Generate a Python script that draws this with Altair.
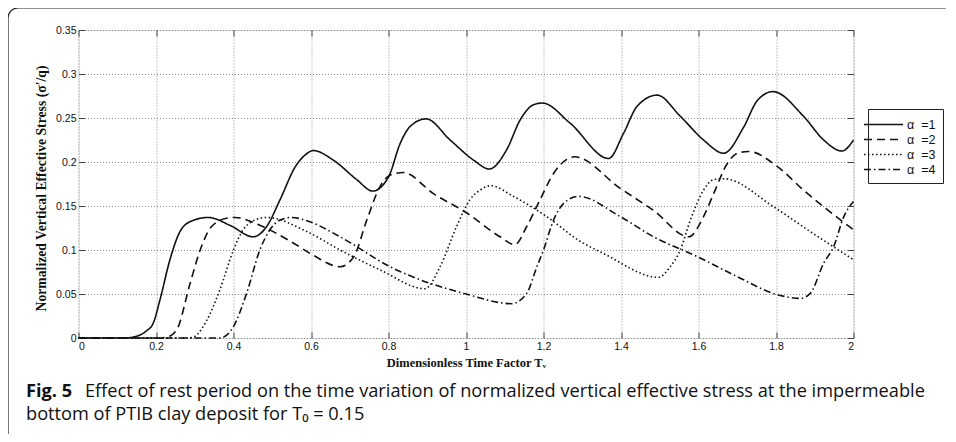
import altair as alt
import pandas as pd

# ---- data ----
T_a1 = [0, 0.12, 0.15, 0.175, 0.193, 0.21, 0.236, 0.262, 0.292, 0.335, 0.391, 0.451, 0.486, 0.52, 0.56, 0.585,
        0.606, 0.658, 0.718, 0.759, 0.8, 0.83, 0.855, 0.897, 0.959, 1.02, 1.06, 1.105, 1.14, 1.174, 1.197,
        1.269, 1.368, 1.407, 1.441, 1.493, 1.553, 1.613, 1.665, 1.717, 1.752, 1.792, 1.871, 1.923, 1.97, 2.0]
V_a1 = [0, 0, 0.002, 0.008, 0.017, 0.043, 0.089, 0.121, 0.133, 0.137, 0.128, 0.115, 0.127, 0.157, 0.195, 0.208,
        0.213, 0.202, 0.180, 0.167, 0.183, 0.221, 0.240, 0.249, 0.225, 0.202, 0.192, 0.214, 0.248, 0.265, 0.267,
        0.244, 0.204, 0.233, 0.263, 0.276, 0.252, 0.225, 0.210, 0.240, 0.270, 0.280, 0.252, 0.225, 0.2125, 0.225]

T_a2 = [0, 0.2, 0.228, 0.253, 0.288, 0.314, 0.344, 0.382, 0.404, 0.468, 0.554, 0.606, 0.675, 0.71, 0.744, 0.778,
        0.804, 0.838, 0.916, 1.002, 1.088, 1.126, 1.157, 1.191, 1.226, 1.26, 1.28, 1.398, 1.484, 1.575, 1.613,
        1.639, 1.674, 1.7, 1.729, 1.803, 1.871, 2.0]
V_a2 = [0, 0, 0.001, 0.009, 0.062, 0.1, 0.127, 0.136, 0.137, 0.128, 0.108, 0.094, 0.081, 0.092, 0.134, 0.172,
        0.185, 0.188, 0.164, 0.142, 0.115, 0.106, 0.127, 0.157, 0.187, 0.203, 0.206, 0.170, 0.145, 0.115, 0.138,
        0.164, 0.198, 0.210, 0.212, 0.195, 0.168, 0.123]

T_a3 = [0, 0.28, 0.296, 0.331, 0.365, 0.4, 0.425, 0.468, 0.486, 0.589, 0.675, 0.78, 0.894, 0.933, 0.976, 1.01,
        1.036, 1.064, 1.122, 1.208, 1.294, 1.355, 1.497, 1.527, 1.553, 1.579, 1.613, 1.639, 1.665, 1.794, 1.888, 2.0]
V_a3 = [0, 0, 0.001, 0.020, 0.055, 0.1, 0.123, 0.136, 0.137, 0.121, 0.1, 0.077, 0.056, 0.081, 0.127, 0.157,
        0.168, 0.173, 0.161, 0.138, 0.110, 0.096, 0.069, 0.081, 0.1, 0.134, 0.168, 0.180, 0.181, 0.149, 0.121, 0.089]

T_a4 = [0, 0.36, 0.374, 0.4, 0.434, 0.468, 0.494, 0.52, 0.55, 0.597, 0.675, 0.804, 1.0, 1.118, 1.157, 1.183,
        1.2, 1.226, 1.252, 1.29, 1.398, 1.484, 1.599, 1.699, 1.798, 1.863, 1.889, 1.923, 1.949, 1.975, 2.0]
V_a4 = [0, 0, 0.001, 0.013, 0.051, 0.1, 0.123, 0.134, 0.137, 0.132, 0.115, 0.081, 0.05, 0.039, 0.051, 0.081,
        0.1, 0.134, 0.153, 0.161, 0.138, 0.115, 0.092, 0.07, 0.05, 0.045, 0.051, 0.085, 0.104, 0.138, 0.155]

series_labels = ["\u03b1\u00a0\u00a0=1", "\u03b1\u00a0\u00a0=2", "\u03b1\u00a0\u00a0=3", "\u03b1\u00a0\u00a0=4"]
x_ticks = [0, 0.2, 0.4, 0.6, 0.8, 1.0, 1.2, 1.4, 1.6, 1.8, 2.0]
y_ticks = [0, 0.05, 0.1, 0.15, 0.2, 0.25, 0.3, 0.35]

caption_bold = "Fig. 5"
caption_line1 = "Effect of rest period on the time variation of normalized vertical effective stress at the impermeable"
caption_line2 = "bottom of PTIB clay deposit for T\u2080 = 0.15"

rows = []
for lab, ts, vs in zip(series_labels, [T_a1, T_a2, T_a3, T_a4], [V_a1, V_a2, V_a3, V_a4]):
    for i, (t, v) in enumerate(zip(ts, vs)):
        rows.append({"T": t, "v": v, "alpha": lab, "i": i})
df = pd.DataFrame(rows)

W, H = 775, 308
TICK = 6
axis_color = "#444"

x_main = alt.X("T:Q", scale=alt.Scale(domain=[0, 2], nice=False, zero=False),
               axis=alt.Axis(values=x_ticks, format="~g", offset=-TICK, tickSize=TICK, domain=False,
                             grid=True, gridDash=[1, 2], gridColor="#8a8a8a", gridWidth=1,
                             tickColor=axis_color, labelPadding=3, labelFont="Liberation Sans",
                             labelFontSize=10.5, labelColor="#111",
                             title="Dimensionless Time Factor T\u1d65", titleFont="Liberation Serif",
                             titleFontSize=12.5, titleFontWeight="bold", titleColor="#111", titlePadding=5))
y_main = alt.Y("v:Q", scale=alt.Scale(domain=[0, 0.35], nice=False),
               axis=alt.Axis(values=y_ticks, format="~g", offset=-TICK, tickSize=TICK, domain=False,
                             grid=True, gridDash=[1, 2], gridColor="#8a8a8a", gridWidth=1,
                             tickColor=axis_color, labelPadding=2.5, labelFont="Liberation Sans",
                             labelFontSize=10.5, labelColor="#111",
                             title="Normalized Vertical Effective Stress (\u03c3\u2032/q)",
                             titleFont="Liberation Serif", titleFontSize=13.7, titleFontWeight="bold",
                             titleColor="#111", titlePadding=7, titleY=158))

lines = alt.Chart(df).mark_line(interpolate="monotone", strokeWidth=1.6, color="#111").encode(
    x=x_main,
    y=y_main,
    order="i:Q",
    strokeDash=alt.StrokeDash(
        "alpha:N",
        scale=alt.Scale(domain=series_labels, range=[[1, 0], [8, 5], [1.5, 2.5], [7, 3, 1.5, 3]]),
        legend=alt.Legend(title=None, orient="none", legendX=789.5, legendY=79, strokeColor="#222",
                          fillColor="white", padding=7, symbolType="M-2.6,0H2.6", symbolSize=225,
                          symbolStrokeWidth=1.6, symbolStrokeColor="#111", symbolFillColor="transparent",
                          labelFont="Liberation Sans", labelFontSize=12.5, labelColor="#111",
                          rowPadding=0, labelOffset=15),
    ),
)

ghost = alt.Chart(df).mark_line(opacity=0).encode(
    x=alt.X("T:Q", scale=alt.Scale(domain=[0, 2], nice=False, zero=False),
            axis=alt.Axis(orient="top", values=x_ticks, offset=-TICK, tickSize=TICK, domain=False,
                          grid=False, labels=False, title=None, tickColor=axis_color)),
    y=alt.Y("v:Q", scale=alt.Scale(domain=[0, 0.35], nice=False),
            axis=alt.Axis(orient="right", values=y_ticks, offset=-TICK, tickSize=TICK, domain=False,
                          grid=False, labels=False, title=None, tickColor=axis_color)),
    detail="alpha:N",
)

one = pd.DataFrame({"k": [0]})
frame = alt.Chart(one).mark_rect(filled=False, stroke="#222", strokeWidth=1.2, cornerRadius=10).encode(
    x=alt.value(-70.5), x2=alt.value(900), y=alt.value(-22), y2=alt.value(420))

CAP_FONT = "Open Sans"
CAP_SIZE = 18.2
cap_b = alt.Chart(one).mark_text(text=caption_bold, align="left", baseline="alphabetic", font=CAP_FONT,
                                 fontWeight="bold", fontSize=CAP_SIZE, color="#111").encode(
    x=alt.value(-52.5), y=alt.value(367))
cap_1 = alt.Chart(one).mark_text(text=caption_line1, align="left", baseline="alphabetic", font=CAP_FONT,
                                 fontSize=CAP_SIZE, color="#111").encode(
    x=alt.value(6.5), y=alt.value(367))
cap_2 = alt.Chart(one).mark_text(text=caption_line2, align="left", baseline="alphabetic", font=CAP_FONT,
                                 fontSize=CAP_SIZE, color="#111").encode(
    x=alt.value(-52.5), y=alt.value(390))

chart = alt.layer(lines, ghost, frame, cap_b, cap_1, cap_2).resolve_axis(
    x="independent", y="independent"
).properties(
    width=W, height=H,
    autosize=alt.AutoSizeParams(type="none"),
    padding={"left": 70.5, "top": 22, "right": 92, "bottom": 96},
).configure_view(stroke=axis_color, strokeWidth=1).configure(background="white")

chart.save("out.html", embed_options={"renderer": "svg", "actions": False})
